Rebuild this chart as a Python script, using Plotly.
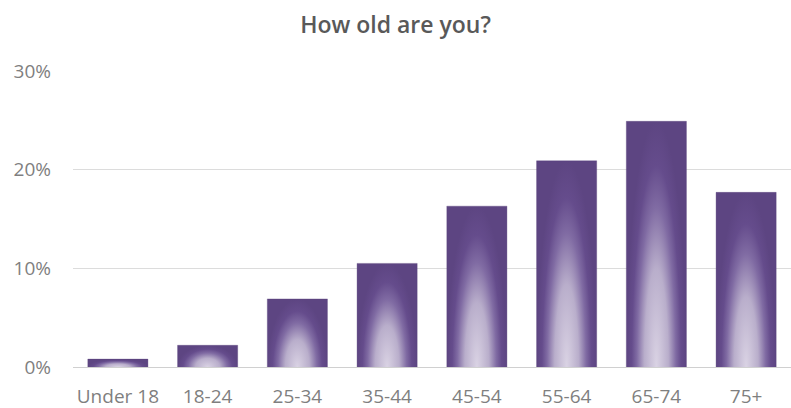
import plotly.graph_objects as go

# Survey responses by age group (share of respondents, %)
categories = ["Under 18", "18-24", "25-34", "35-44", "45-54", "55-64", "65-74", "75+"]
shares = [0.8, 2.2, 6.9, 10.5, 16.3, 20.9, 24.9, 17.7]
y_ticks = [0, 10, 20, 30]
y_tick_labels = ["0%", "10%", "20%", "30%"]

BAR_WIDTH = 0.67
DARK = "#5d4582"
GRADIENT = [
    [0.0, "#dad3e4"],
    [0.4, "#b9aecb"],
    [0.65, "#806ba3"],
    [0.82, "#654c8c"],
    [1.0, DARK],
]

fig = go.Figure()

# Each column is a filled shape mirrored about the baseline so the radial
# gradient is centred at the bottom middle of the visible bar; the part
# below zero is clipped away by the axis range.
for i, (cat, v) in enumerate(zip(categories, shares)):
    x0, x1 = i - BAR_WIDTH / 2, i + BAR_WIDTH / 2
    fig.add_trace(go.Scatter(
        x=[x0, x1, x1, x0, x0],
        y=[-v, -v, v, v, -v],
        mode="lines",
        fill="toself",
        line=dict(width=0.6, color="rgba(85,62,120,0.55)"),
        fillgradient=dict(type="radial", colorscale=GRADIENT),
        name=cat,
        hovertemplate=f"{cat}: {v}%<extra></extra>",
        showlegend=False,
    ))

font_family = "Open Sans, Lato, sans-serif"

fig.update_layout(
    width=791,
    height=408,
    margin=dict(l=73, r=0, t=71, b=41),
    paper_bgcolor="white",
    plot_bgcolor="white",
    title=dict(
        text="How old are you?",
        x=0.5,
        xanchor="center",
        y=0.938,
        yanchor="middle",
        font=dict(family=font_family, size=23, weight=600, color="#595959"),
    ),
    xaxis=dict(
        range=[-0.5, len(categories) - 0.5],
        tickmode="array",
        tickvals=list(range(len(categories))),
        ticktext=categories,
        showgrid=False,
        zeroline=False,
        showline=False,
        ticks="",
        ticklabelstandoff=16,
        tickfont=dict(family=font_family, size=19, color="#7f7f7f"),
        fixedrange=True,
    ),
    yaxis=dict(
        range=[0, 30],
        tickmode="array",
        tickvals=y_ticks,
        ticktext=y_tick_labels,
        showgrid=True,
        gridcolor="#dcdcdc",
        gridwidth=1,
        zeroline=True,
        zerolinecolor="#d0d0d0",
        zerolinewidth=1,
        showline=False,
        ticks="",
        ticklabelstandoff=21,
        tickfont=dict(family=font_family, size=19, color="#7f7f7f"),
        fixedrange=True,
    ),
)

fig.write_html("out.html")
